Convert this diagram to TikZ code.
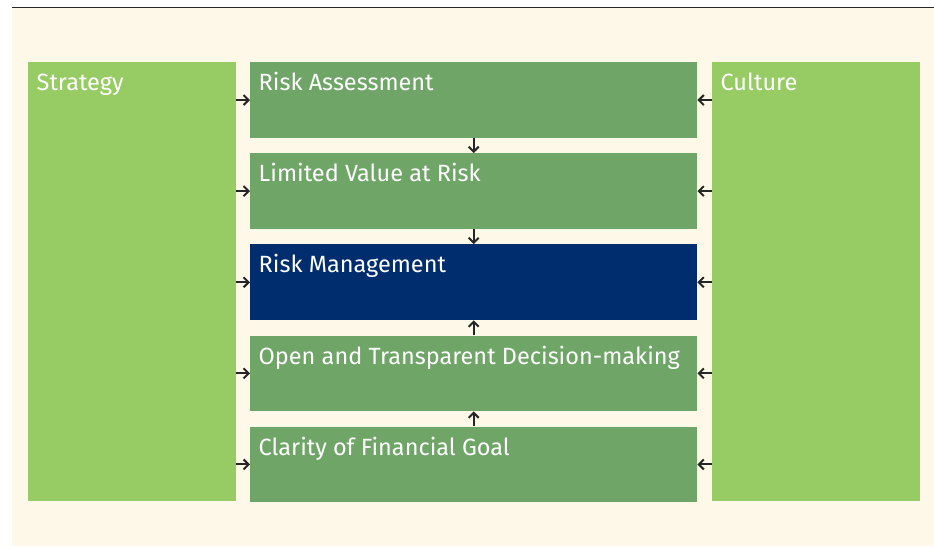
\documentclass[tikz,border=0pt]{standalone}
\usepackage{fontspec}
\setmainfont{Fira Sans}
\usetikzlibrary{positioning,arrows.meta}

\definecolor{cream}{HTML}{FEF8E8}
\definecolor{lightgreen}{HTML}{97CB64}
\definecolor{midgreen}{HTML}{6FA567}
\definecolor{navy}{HTML}{002D6E}

\begin{document}
\begin{tikzpicture}[
    x=1pt, y=-1pt,
    node distance=15pt,
    pillar/.style={rectangle, fill=lightgreen, minimum width=208pt, minimum height=438.7pt, inner sep=0pt},
    block/.style={rectangle, fill=midgreen, minimum width=447pt, minimum height=75.7pt, inner sep=0pt},
    focus/.style={block, fill=navy},
    caption/.style={anchor=north west, text=white, font=\fontsize{23.5}{28}\selectfont, text height=18pt, text depth=5pt, inner xsep=8.5pt, inner ysep=10.5pt},
    arrow/.style={-{Straight Barb[length=5pt,width=10pt]}, line width=2pt, black!85}
]
    % page frame
    \useasboundingbox (0,0) rectangle (934,546);
    \fill[cream] (12,8) rectangle (934,546);
    \draw[line width=1pt, black!85] (12,7.5) -- (934,7.5);

    % side pillars
    \node[pillar, anchor=north west, label={[caption]north west:Strategy}] (strategy) at (28,62) {};
    \node[pillar, anchor=north west, label={[caption]north west:Culture}] (culture) at (712,62) {};

    % central stack
    \node[block, anchor=north west, label={[caption]north west:Risk Assessment}] (assess) at (250,62) {};
    \node[block, below=of assess, label={[caption]north west:Limited Value at Risk}] (var) {};
    \node[focus, below=of var, label={[caption]north west:Risk Management}] (manage) {};
    \node[block, below=of manage, label={[caption]north west:Open and Transparent Decision-making}] (decide) {};
    \node[block, below=of decide, label={[caption]north west:Clarity of Financial Goal}] (goal) {};

    % inputs from both sides
    \foreach \b in {assess,var,manage,decide,goal} {
        \draw[arrow] (strategy.east |- \b.west) -- (\b.west);
        \draw[arrow] (culture.west |- \b.east) -- (\b.east);
    }

    % flow into risk management
    \draw[arrow] (assess.south) -- (var.north);
    \draw[arrow] (var.south) -- (manage.north);
    \draw[arrow] (decide.north) -- (manage.south);
    \draw[arrow] (goal.north) -- (decide.south);
\end{tikzpicture}
\end{document}
